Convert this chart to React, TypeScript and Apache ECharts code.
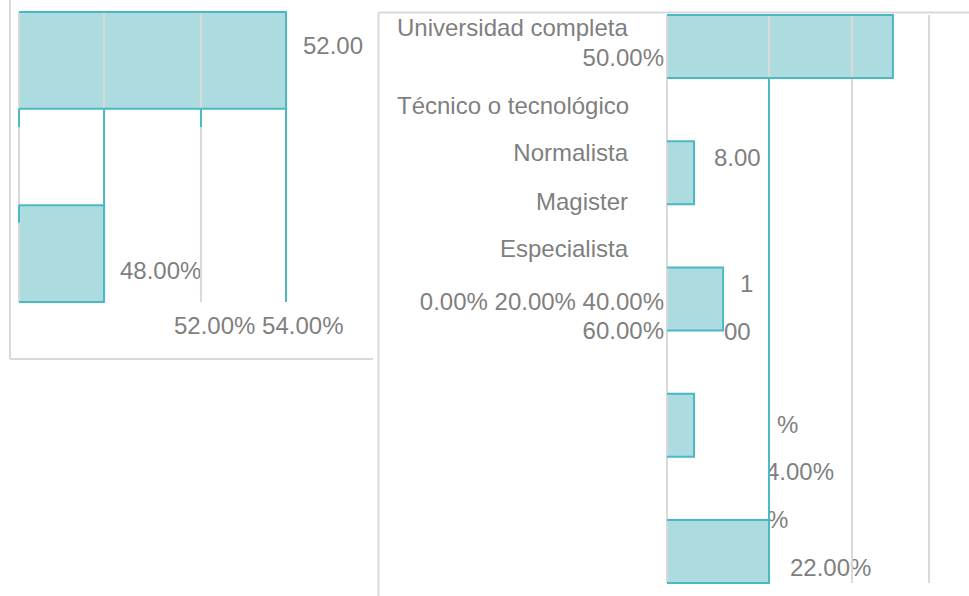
import React, { useEffect, useRef } from "react";
import * as echarts from "echarts";

// ---------- data ----------
// left panel (two bars, three slots)
const leftValues = [52, 48];
const leftSlots = [0, 2];
const leftAxisMin = 46.13;
const leftAxisMax = 52;
const leftGridValues = [46.13, 48, 50.13];
const leftTealLines = [
  [52, 0, 3],
  [48, 1, 3],
  [46.13, 1, 1.19],
  [50.13, 1, 1.19],
  [46.13, 2, 2.18],
];
const leftLabels = ["52.00", "48.00%", "52.00% 54.00%"];

// right panel (five bars)
const rightCategories = [
  "Universidad completa",
  "Técnico o tecnológico",
  "Normalista",
  "Magister",
  "Especialista",
];
const rightValues = [44.3, 5.3, 11, 5.3, 20];
const rightSlots = [0, 2, 4, 6, 8];
const rightAxisMax = 51.37;
const rightGridValues = [0, 20, 36.27, 51.37];
const rightTealLines = [[20, 1, 9]];
const rightLabels = [
  "50.00%",
  "8.00",
  "1",
  "0.00% 20.00% 40.00%",
  "60.00%",
  "00",
  "%",
  "4.00%",
  "%",
  "22.00%",
];

const FILL = "#acdbe0";
const TEAL = "#4bb9c3";
const GRID = "#d9d9d9";
const TEXT = "#7f7f7f";
const FONT = '24px "Liberation Sans", Arial, sans-serif';

function fillSeries(gridIndex: number, values: number[], slots: number[], minX: number) {
  return {
    type: "custom",
    xAxisIndex: gridIndex,
    yAxisIndex: gridIndex,
    z: 1,
    silent: true,
    data: values.map((v, i) => [minX, v, slots[i], slots[i] + 1]),
    renderItem: (_p: any, api: any) => {
      const a = api.coord([api.value(0), api.value(2)]);
      const b = api.coord([api.value(1), api.value(3)]);
      return {
        type: "rect",
        shape: { x: a[0], y: a[1], width: b[0] - a[0], height: b[1] - a[1] },
        style: { fill: FILL },
      };
    },
  };
}

function edgeSeries(gridIndex: number, values: number[], slots: number[], minX: number) {
  return {
    type: "custom",
    xAxisIndex: gridIndex,
    yAxisIndex: gridIndex,
    z: 4,
    silent: true,
    data: values.map((v, i) => [minX, v, slots[i], slots[i] + 1]),
    renderItem: (_p: any, api: any) => {
      const a = api.coord([api.value(0), api.value(2)]);
      const b = api.coord([api.value(1), api.value(3)]);
      return {
        type: "polyline",
        shape: {
          points: [
            [a[0], a[1]],
            [b[0], a[1]],
            [b[0], b[1]],
            [a[0], b[1]],
          ],
        },
        style: { fill: "none", stroke: TEAL, lineWidth: 2 },
      };
    },
  };
}

function vLineSeries(gridIndex: number, lines: number[][], color: string, z: number) {
  return {
    type: "custom",
    xAxisIndex: gridIndex,
    yAxisIndex: gridIndex,
    z,
    silent: true,
    data: lines,
    renderItem: (_p: any, api: any) => {
      const a = api.coord([api.value(0), api.value(1)]);
      const b = api.coord([api.value(0), api.value(2)]);
      return {
        type: "line",
        shape: { x1: a[0], y1: a[1], x2: b[0], y2: b[1] },
        style: { stroke: color, lineWidth: 2 },
      };
    },
  };
}

function txt(text: string, x: number, y: number, align: string) {
  return {
    type: "text",
    x,
    y,
    z: 0,
    silent: true,
    style: {
      text,
      font: FONT,
      fill: TEXT,
      textAlign: align,
      textVerticalAlign: "middle",
      align,
      verticalAlign: "middle",
    },
  };
}

export default function App() {
  const ref = useRef<HTMLDivElement>(null);
  useEffect(() => {
    if (!ref.current) return;
    const chart = echarts.init(ref.current, undefined, { renderer: "svg" });
    const option: any = {
      animation: false,
      backgroundColor: "#ffffff",
      grid: [
        { left: 19, top: 12, width: 267, height: 290 },
        { left: 667, top: 15, width: 262, height: 568 },
      ],
      xAxis: [
        { type: "value", gridIndex: 0, min: leftAxisMin, max: leftAxisMax, show: false },
        { type: "value", gridIndex: 1, min: 0, max: rightAxisMax, show: false },
      ],
      yAxis: [
        { type: "value", gridIndex: 0, min: 0, max: 3, inverse: true, show: false },
        { type: "value", gridIndex: 1, min: 0, max: 9, inverse: true, show: false },
      ],
      series: [
        fillSeries(0, leftValues, leftSlots, leftAxisMin),
        vLineSeries(0, leftGridValues.map((v) => [v, 0, 3]), GRID, 2),
        edgeSeries(0, leftValues, leftSlots, leftAxisMin),
        vLineSeries(0, leftTealLines, TEAL, 5),
        fillSeries(1, rightValues, rightSlots, 0),
        vLineSeries(1, rightGridValues.map((v) => [v, 0, 9]), GRID, 2),
        edgeSeries(1, rightValues, rightSlots, 0),
        vLineSeries(1, rightTealLines, TEAL, 5),
      ],
      graphic: [
        // panel frames
        { type: "line", z: 0, silent: true, shape: { x1: 10, y1: 0, x2: 10, y2: 359 }, style: { stroke: GRID, lineWidth: 2 } },
        { type: "line", z: 0, silent: true, shape: { x1: 10, y1: 359, x2: 373, y2: 359 }, style: { stroke: GRID, lineWidth: 2 } },
        { type: "line", z: 0, silent: true, shape: { x1: 378.5, y1: 12.5, x2: 969, y2: 12.5 }, style: { stroke: GRID, lineWidth: 2 } },
        { type: "line", z: 0, silent: true, shape: { x1: 378.5, y1: 12.5, x2: 378.5, y2: 596 }, style: { stroke: GRID, lineWidth: 2 } },
        // left panel texts
        txt(leftLabels[0], 363, 45, "right"),
        txt(leftLabels[1], 120, 270, "left"),
        txt(leftLabels[2], 174, 325, "left"),
        // right panel category texts
        txt(rightCategories[0], 397, 27, "left"),
        txt(rightCategories[1], 397, 105, "left"),
        txt(rightCategories[2], 628, 152.5, "right"),
        txt(rightCategories[3], 628, 201, "right"),
        txt(rightCategories[4], 628, 248, "right"),
        // right panel value / axis texts
        txt(rightLabels[0], 664, 57, "right"),
        txt(rightLabels[1], 714, 157, "left"),
        txt(rightLabels[2], 740, 283, "left"),
        txt(rightLabels[3], 664, 301, "right"),
        txt(rightLabels[4], 664, 330, "right"),
        txt(rightLabels[5], 724, 331, "left"),
        txt(rightLabels[6], 777, 424, "left"),
        txt(rightLabels[7], 766, 471, "left"),
        txt(rightLabels[8], 767, 519, "left"),
        txt(rightLabels[9], 790, 567, "left"),
        // mask clipping texts left of the teal line
        { type: "rect", z: 1, silent: true, shape: { x: 748, y: 455, width: 21, height: 64 }, style: { fill: "#ffffff" } },
      ],
    };
    chart.setOption(option);
    return () => chart.dispose();
  }, []);
  return (
    <div
      ref={ref}
      style={{ position: "fixed", left: 0, top: 0, width: 969, height: 596, background: "#fff" }}
    />
  );
}
